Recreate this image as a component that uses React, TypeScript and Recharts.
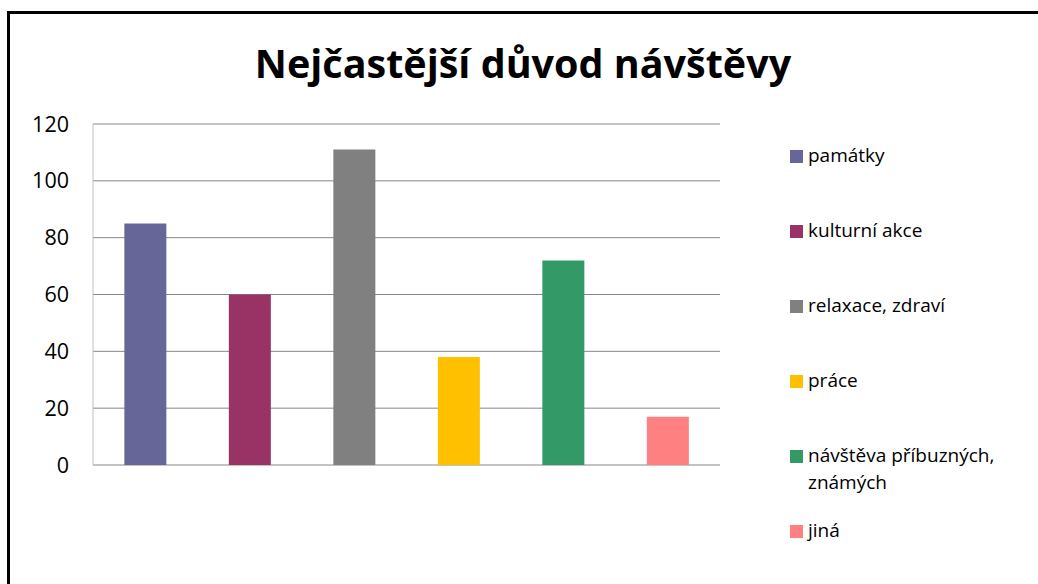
import React from "react";
import { BarChart, Bar, XAxis, YAxis, CartesianGrid, Cell } from "recharts";

const categories = ["památky", "kulturní akce", "relaxace, zdraví", "práce", "návštěva příbuzných, známých", "jiná"];
const values = [85, 60, 111, 38, 72, 17];
const colors = ["#666699", "#993366", "#808080", "#FFC000", "#339966", "#FF8080"];
const yTicks = [0, 20, 40, 60, 80, 100, 120];
const title = "Nejčastější důvod návštěvy";

const data = categories.map((c, i) => ({ name: c, value: values[i] }));

const FONT = "'Open Sans', 'Noto Sans', sans-serif";

const ChartLegend = () => (
  <div style={{ position: "absolute", left: 790, top: 144, width: 240, fontFamily: FONT, fontSize: 19, color: "#000" }}>
    {categories.map((c, i) => (
      <div
        key={c}
        style={{ position: "absolute", left: 0, top: i * 75, width: 225, display: "flex", alignItems: "flex-start" }}
      >
        <span
          style={{ display: "inline-block", width: 13, height: 13, background: colors[i], marginTop: 6, marginRight: 5, flex: "none" }}
        />
        <span style={{ lineHeight: "27px", marginTop: -2 }}>{c}</span>
      </div>
    ))}
  </div>
);

export default function App() {
  return (
    <div style={{ position: "absolute", left: 0, top: 0, width: 1038, height: 584, background: "#fff", overflow: "hidden" }}>
      <div
        style={{ position: "absolute", left: 7, top: 11, width: 1100, height: 700, border: "3px solid #000", boxSizing: "border-box" }}
      />
      <div
        style={{
          position: "absolute",
          left: 0,
          width: 1046,
          top: 35,
          textAlign: "center",
          fontFamily: FONT,
          fontWeight: 700,
          fontSize: 39.5,
          lineHeight: "56px",
          color: "#000",
        }}
      >
        {title}
      </div>
      <div style={{ position: "absolute", left: 0, top: 0 }}>
        <BarChart
          width={1038}
          height={584}
          data={data}
          margin={{ top: 124, right: 318, bottom: 119, left: 0 }}
          barCategoryGap="30%"
        >
          <CartesianGrid horizontal vertical={false} stroke="#868686" strokeWidth={1} />
          <XAxis dataKey="name" tick={false} tickLine={false} height={0} axisLine={{ stroke: "#BFBFBF", strokeWidth: 2 }} />
          <YAxis
            domain={[0, 120]}
            ticks={yTicks}
            width={93}
            tickLine={false}
            tickSize={0}
            tickMargin={24}
            axisLine={{ stroke: "#BFBFBF", strokeWidth: 1 }}
            tick={{ fill: "#000", fontSize: 21.5, fontFamily: FONT }}
          />
          <Bar dataKey="value" isAnimationActive={false}>
            {data.map((d, i) => (
              <Cell key={d.name} fill={colors[i]} />
            ))}
          </Bar>
        </BarChart>
      </div>
      <ChartLegend />
    </div>
  );
}
